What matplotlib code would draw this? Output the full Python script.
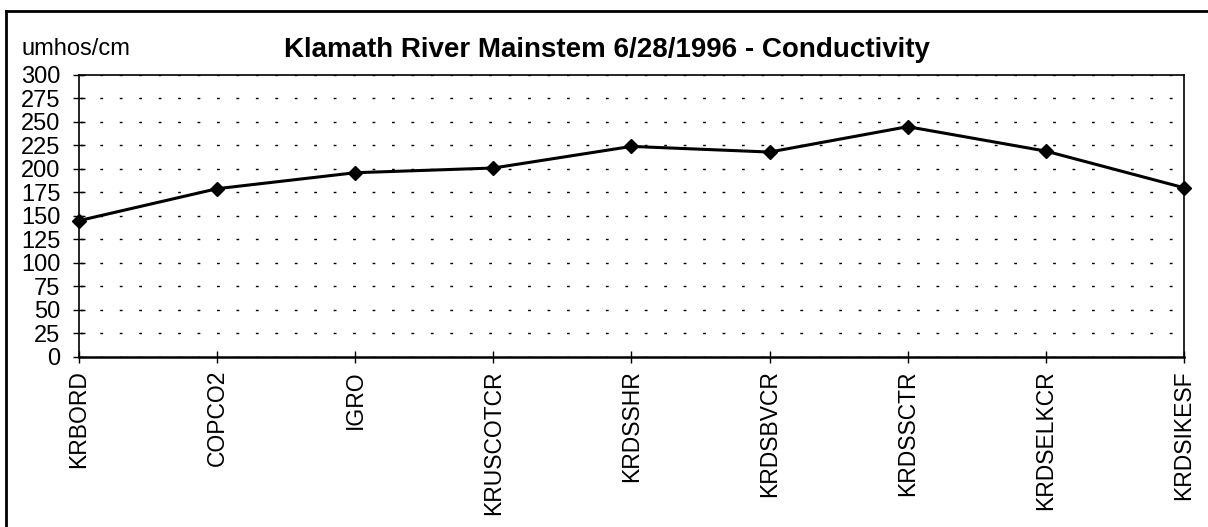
import matplotlib
matplotlib.use("Agg")
import matplotlib.pyplot as plt
from matplotlib.lines import Line2D

plt.rcParams['font.family'] = ['Liberation Sans', 'DejaVu Sans']

# Sampling stations along the Klamath River mainstem, upstream to downstream
stations = ["KRBORD", "COPCO2", "IGRO", "KRUSCOTCR", "KRDSSHR",
            "KRDSBVCR", "KRDSSCTR", "KRDSELKCR", "KRDSIKESF"]
conductivity = [145, 179, 196, 201, 224, 218, 245, 219, 180]
y_ticks = list(range(0, 301, 25))

fig = plt.figure(figsize=(12.08, 5.27), dpi=100)
ax = fig.add_axes([0.0654, 0.3228, 0.9147, 0.5349])

x = list(range(len(stations)))
ax.plot(x, conductivity, color='black', linewidth=2.2, marker='D',
        markersize=7.5, markerfacecolor='black', markeredgecolor='black',
        clip_on=False, zorder=5)

ax.set_xlim(0, len(stations) - 1)
ax.set_ylim(0, 300)
ax.set_yticks(y_ticks)
ax.set_xticks(x)
ax.set_xticklabels(stations, rotation=90, va='top', ha='center')

ax.tick_params(axis='both', direction='inout', length=9, width=1,
               colors='black')
ax.tick_params(axis='y', pad=9, labelsize=17)
ax.tick_params(axis='x', pad=5, labelsize=16.5)

# dotted horizontal gridlines only
ax.yaxis.grid(True, color='black', linewidth=1, linestyle=(13, (2, 12)))
ax.xaxis.grid(False)

for side in ['top', 'right', 'left']:
    ax.spines[side].set_linewidth(1.2)
ax.spines['bottom'].set_linewidth(1.8)

fig.text(0.5025, 0.8918, "Klamath River Mainstem 6/28/1996 - Conductivity",
         ha='center', va='baseline', fontsize=20, fontweight='bold')
fig.text(0.0174, 0.8956, "umhos/cm", ha='left', va='baseline', fontsize=17)

# outer frame, running off the right and bottom edges
fig.add_artist(Line2D([0.005, 1.0], [0.979, 0.979], transform=fig.transFigure,
                      color='black', linewidth=2))
fig.add_artist(Line2D([0.005, 0.005], [0.0, 0.979], transform=fig.transFigure,
                      color='black', linewidth=2))

fig.savefig("out.png", dpi=100)
